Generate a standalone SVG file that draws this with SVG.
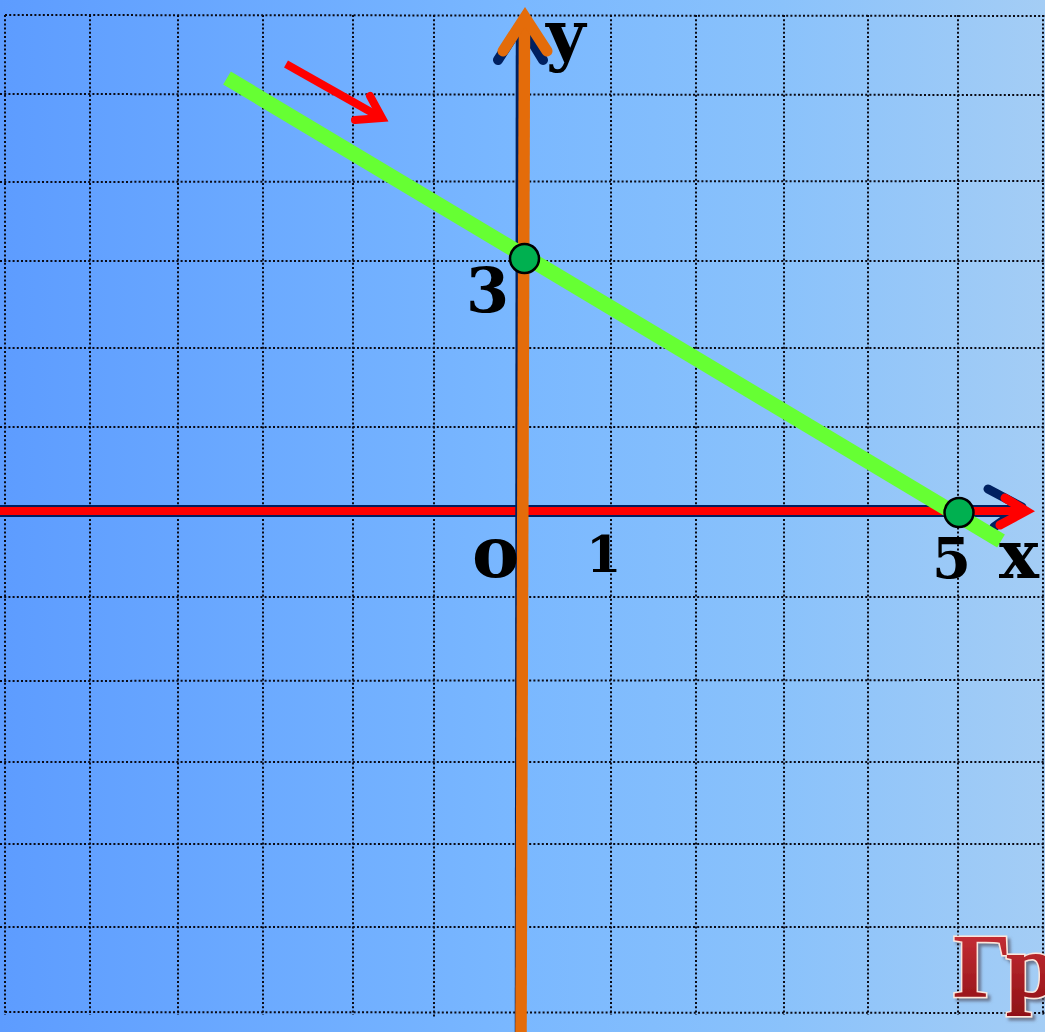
<svg xmlns="http://www.w3.org/2000/svg" width="1045" height="1032" viewBox="0 0 1045 1032">
<defs>
<linearGradient id="bg" x1="0" y1="0" x2="1" y2="0">
<stop offset="0" stop-color="#5d9cff"/>
<stop offset="0.5" stop-color="#7ab8ff"/>
<stop offset="0.75" stop-color="#8ac2fb"/>
<stop offset="1" stop-color="#a4cdf5"/>
</linearGradient>
<linearGradient id="tg" x1="0" y1="0" x2="0" y2="1">
<stop offset="0" stop-color="#d0343a"/>
<stop offset="1" stop-color="#8e1015"/>
</linearGradient>
<filter id="sh" x="-10%" y="-10%" width="130%" height="130%">
<feDropShadow dx="3" dy="3" stdDeviation="1.5" flood-color="#555566" flood-opacity="0.7"/>
</filter>
<style>
.grid line{stroke:#0a0a14;stroke-width:2;stroke-dasharray:2 2.2;}
.lbl{font-family:"DejaVu Serif","Liberation Serif",serif;font-weight:bold;fill:#000;}
.pt{fill:#00b050;stroke:#000;stroke-width:2.5;}
</style>
</defs>
<rect width="1045" height="1032" fill="url(#bg)"/>
<g id="grid" class="grid">
<line x1="5" y1="15" x2="5" y2="1015"/>
<line x1="90" y1="15" x2="90" y2="1015"/>
<line x1="178" y1="15" x2="178" y2="1015"/>
<line x1="263" y1="15" x2="263" y2="1015"/>
<line x1="353" y1="15" x2="353" y2="1015"/>
<line x1="434" y1="15" x2="434" y2="1018"/>
<line x1="611" y1="15" x2="611" y2="1015"/>
<line x1="696" y1="15" x2="696" y2="1015"/>
<line x1="784" y1="15" x2="784" y2="1015"/>
<line x1="868" y1="15" x2="868" y2="1015"/>
<line x1="958" y1="15" x2="958" y2="1015"/>
<line x1="1043" y1="15" x2="1043" y2="1015"/>
<line x1="5" y1="15" x2="1045" y2="16"/>
<line x1="0" y1="94" x2="1045" y2="95"/>
<line x1="0" y1="182" x2="1045" y2="181"/>
<line x1="0" y1="261" x2="1045" y2="261"/>
<line x1="0" y1="348" x2="1045" y2="348"/>
<line x1="0" y1="427" x2="1045" y2="427"/>
<line x1="0" y1="597" x2="1045" y2="597"/>
<line x1="0" y1="681" x2="1045" y2="680"/>
<line x1="0" y1="762" x2="1045" y2="762"/>
<line x1="0" y1="844" x2="1045" y2="844"/>
<line x1="0" y1="927" x2="1045" y2="927"/>
<line x1="5" y1="1012" x2="1045" y2="1013"/>
</g>
<g id="title">
<text x="953" y="997" font-family="Liberation Serif,serif" font-weight="bold" font-size="92" fill="url(#tg)" stroke="#fbe6dc" stroke-width="3" paint-order="stroke" filter="url(#sh)">Гр</text>
</g>
<g id="connectors">
<g id="x-axis">
<line x1="0" y1="511" x2="1024" y2="511" stroke="#002060" stroke-width="12"/>
<polyline points="988,489 1022,507 994,527" fill="none" stroke="#002060" stroke-width="9" stroke-linecap="round" stroke-linejoin="round"/>
<line x1="0" y1="511" x2="1026" y2="511" stroke="#ff0000" stroke-width="8"/>
<polyline points="1005,498 1026,511 1000,525" fill="none" stroke="#ff0000" stroke-width="9" stroke-linecap="round" stroke-linejoin="miter"/>
</g>
<g id="y-axis">
<line x1="516.5" y1="1032" x2="517.5" y2="24" stroke="#002060" stroke-width="3.5"/>
<polyline points="498,60 521,24 543,60" fill="none" stroke="#002060" stroke-width="10" stroke-linecap="round" stroke-linejoin="round"/>
<line x1="521" y1="1032" x2="524.5" y2="20" stroke="#e46c0a" stroke-width="11.5"/>
<polyline points="503,51 525,17 547,51" fill="none" stroke="#e46c0a" stroke-width="11" stroke-linecap="round" stroke-linejoin="miter"/>
</g>
<line id="graph" x1="227" y1="78" x2="1001" y2="541" stroke="#66ff33" stroke-width="15"/>
<g id="direction-arrow" fill="none" stroke="#ff0000" stroke-width="8" stroke-linecap="butt">
<line x1="286" y1="64" x2="378" y2="116"/>
<polyline points="370,96 382,118 355,120" stroke-linejoin="miter" stroke-linecap="round"/>
</g>
</g>
<g id="point-y3"><circle class="pt" cx="524.5" cy="258.5" r="14.5"/></g>
<g id="point-x5"><circle class="pt" cx="959" cy="512.5" r="14.5"/></g>
<g id="labels">
<text class="lbl" x="546" y="58" font-size="68">y</text>
<text class="lbl" x="466" y="312" font-size="62">3</text>
<text class="lbl" x="472" y="577" font-size="71">o</text>
<text class="lbl" x="586" y="572" font-size="51">1</text>
<text class="lbl" x="932" y="578" font-size="56">5</text>
<text class="lbl" x="999" y="578" font-size="67">x</text>
</g>
</svg>
